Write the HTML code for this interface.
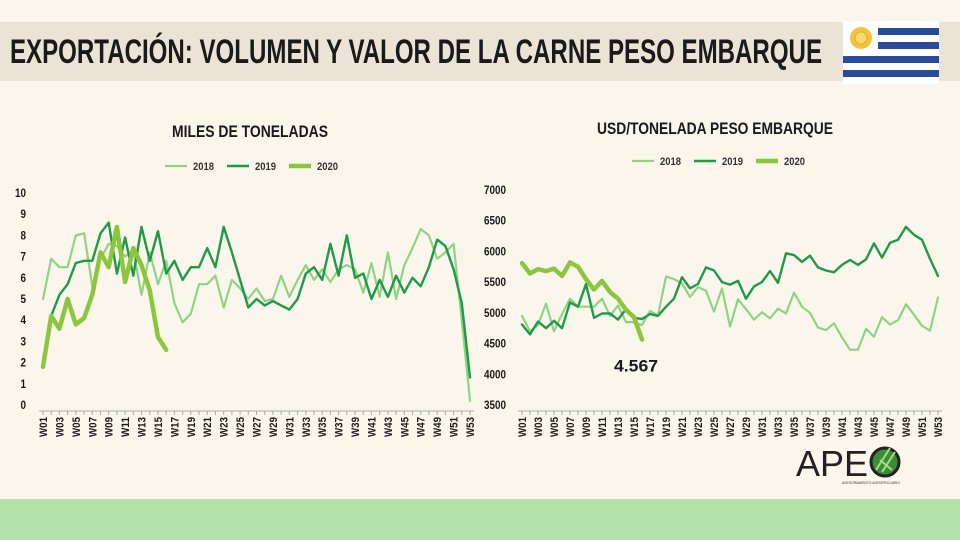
<!DOCTYPE html>
<html><head><meta charset="utf-8">
<style>
html,body{margin:0;padding:0;background:#fbf6ec;}
#root{position:relative;width:960px;height:540px;overflow:hidden;background:#fbf6ec;font-family:"Liberation Sans",sans-serif;}
svg text{font-family:"Liberation Sans",sans-serif;}
</style></head>
<body>
<div id="root">
<svg id="svg" width="960" height="540" viewBox="0 0 960 540">
  <rect x="0" y="22" width="960" height="59" fill="#ebe3d5"/>
  <text x="10" y="63" font-size="34" font-weight="bold" fill="#1a1a1a" textLength="812" lengthAdjust="spacingAndGlyphs">EXPORTACIÓN: VOLUMEN Y VALOR DE LA CARNE PESO EMBARQUE</text>
  <g>
    <rect x="843" y="21" width="96" height="63" fill="#ffffff"/>
    <rect x="878" y="28" width="61" height="7" fill="#2a4b9b"/>
    <rect x="878" y="42" width="61" height="7" fill="#2a4b9b"/>
    <rect x="843" y="56" width="96" height="7" fill="#2a4b9b"/>
    <rect x="843" y="70" width="96" height="7" fill="#2a4b9b"/>
    <circle cx="861" cy="38" r="11" fill="#f3c43a"/>
    <circle cx="861" cy="38" r="6" fill="#f7d873" stroke="#d9a520" stroke-width="0.8"/>
  </g>
  <rect x="0" y="499" width="960" height="41" fill="#b3e3aa"/>
  <g>
    <text x="796" y="476" font-size="36" fill="#222" textLength="72" lengthAdjust="spacingAndGlyphs">APE</text>
    <circle cx="885" cy="462" r="14" fill="#3c8c3a" stroke="#222" stroke-width="3"/>
    <path d="M876 470 L890 448 M882 472 L895 452 M880 460 L892 470" stroke="#a6dd7a" stroke-width="2"/>
    <text x="842" y="484" font-size="4" fill="#333" textLength="58" lengthAdjust="spacingAndGlyphs">ASESORAMIENTO AGROPECUARIO</text>
  </g>
  <text x="172" y="137" font-size="17" font-weight="bold" fill="#1a1a1a" textLength="156" lengthAdjust="spacingAndGlyphs">MILES DE TONELADAS</text>
  <text x="597" y="134" font-size="17" font-weight="bold" fill="#1a1a1a" textLength="236" lengthAdjust="spacingAndGlyphs">USD/TONELADA PESO EMBARQUE</text>
  <g id="left"></g>
  <g id="right"></g>
</svg>
</div>
<script>
const weeks = [];
for (let i = 1; i <= 53; i++) weeks.push('W' + (i < 10 ? '0' + i : i));
const volTicks = [0,1,2,3,4,5,6,7,8,9,10];
const vol2018 = [5.0,6.9,6.5,6.5,8.0,8.1,5.6,6.9,7.6,7.5,7.0,7.3,5.2,7.2,5.7,6.8,4.8,3.9,4.3,5.7,5.7,6.1,4.6,5.9,5.5,5.0,5.5,4.9,5.0,6.1,5.1,5.9,6.6,5.9,6.4,5.8,6.4,6.6,6.4,5.3,6.7,5.1,7.2,5.0,6.6,7.4,8.3,8.0,6.9,7.2,7.6,4.0,0.2];
const vol2019 = [null,4.2,5.2,5.7,6.7,6.8,6.8,8.1,8.6,6.2,7.9,6.1,8.4,6.8,8.2,6.2,6.8,5.9,6.5,6.5,7.4,6.5,8.4,7.2,5.9,4.6,5.0,4.7,4.9,4.7,4.5,5.0,6.2,6.5,5.9,7.6,6.1,8.0,6.0,6.2,5.0,5.9,5.1,6.1,5.3,6.0,5.6,6.5,7.8,7.5,6.4,4.8,1.3];
const vol2020 = [1.8,4.2,3.6,5.0,3.8,4.1,5.2,7.2,6.5,8.4,5.8,7.4,6.6,5.4,3.2,2.6];
const priceTicks = [3500,4000,4500,5000,5500,6000,6500,7000];
const price2018 = [4950,4700,4800,5150,4700,4980,5230,5100,5100,5100,5230,4950,5120,4850,4850,4800,5030,4960,5590,5550,5480,5260,5420,5360,5020,5400,4780,5220,5060,4890,5010,4910,5070,4990,5330,5100,5000,4760,4720,4830,4600,4400,4400,4740,4610,4930,4810,4880,5140,4970,4790,4710,5250];
const price2019 = [4810,4650,4860,4750,4870,4750,5170,5100,5470,4920,4990,4990,4890,5060,4920,4900,4980,4950,5100,5230,5580,5400,5470,5740,5690,5500,5460,5520,5230,5430,5500,5680,5490,5970,5940,5830,5930,5740,5690,5660,5780,5860,5780,5870,6130,5900,6140,6190,6400,6270,6190,5880,5600];
const price2020 = [5810,5640,5710,5680,5720,5600,5820,5750,5550,5380,5520,5340,5230,5050,4930,4567];
const seriesNames = ['2018','2019','2020'];
const lastLabel = '4.567';

const NS = 'http://www.w3.org/2000/svg';
function mk(tag, attrs, parent) {
  const e = document.createElementNS(NS, tag);
  for (const k in attrs) e.setAttribute(k, attrs[k]);
  parent.appendChild(e);
  return e;
}
const colors = ['#8fd483', '#1f9a4a', '#8cc63f'];
const widths = [2.2, 2.4, 4.5];

function drawChart(g, cfg) {
  const xS = i => cfg.x0 + i * (cfg.x1 - cfg.x0) / (weeks.length - 1);
  const yS = v => cfg.yb - (v - cfg.vmin) / (cfg.vmax - cfg.vmin) * (cfg.yb - cfg.yt);
  cfg.ticks.forEach(t => {
    const s = String(t);
    const tx = mk('text', {x: cfg.labelX, y: yS(t) + 4, 'text-anchor': cfg.anchor, 'font-size': 12, 'font-weight': 'bold', fill: '#1a1a1a', textLength: s.length * 5.5, lengthAdjust: 'spacingAndGlyphs'}, g);
    
    
    tx.textContent = s;
  });
  const ax = mk('line', {x1: xS(0) - 4, x2: xS(weeks.length - 1) + 4, y1: cfg.yb + 6, y2: cfg.yb + 6, stroke: '#aaa', 'stroke-width': 1}, g);
  
  
  weeks.forEach((w, i) => {
    const tk = mk('line', {x1: xS(i), x2: xS(i), y1: cfg.yb + 6, y2: cfg.yb + 10, stroke: '#aaa', 'stroke-width': 1}, g);
    
    
    if (i % 2 === 0) {
      const x = xS(i) + 4, y = cfg.yb + 12;
      const tl = mk('text', {x: x, y: y, 'text-anchor': 'end', 'font-size': 11, 'font-weight': 'bold', fill: '#1a1a1a', textLength: 20, lengthAdjust: 'spacingAndGlyphs', transform: 'rotate(-90 ' + x + ' ' + y + ')'}, g);
      
      
      tl.textContent = w;
    }
  });
  cfg.series.forEach((s, k) => {
    let d = '', pen = false;
    s.forEach((v, i) => {
      if (v === null) { pen = false; return; }
      d += (pen ? 'L' : 'M') + xS(i).toFixed(1) + ' ' + yS(v).toFixed(1) + ' ';
      pen = true;
    });
    const p = mk('path', {d: d, fill: 'none', stroke: colors[k], 'stroke-width': widths[k], 'stroke-linejoin': 'round', 'stroke-linecap': 'round'}, g);
    
    
  });
  seriesNames.forEach((n, k) => {
    const lx = cfg.legX + k * 62;
    const ll = mk('line', {x1: lx, x2: lx + 22, y1: cfg.legY, y2: cfg.legY, stroke: colors[k], 'stroke-width': widths[k]}, g);
    
    
    const lt = mk('text', {x: lx + 28, y: cfg.legY + 4, 'font-size': 11, 'font-weight': 'bold', fill: '#333', textLength: 21, lengthAdjust: 'spacingAndGlyphs'}, g);
    
    
    lt.textContent = n;
  });
  return {xS, yS};
}

drawChart(document.getElementById('left'), {
  x0: 43, x1: 470, yt: 193, yb: 405, vmin: 0, vmax: 10, ticks: volTicks,
  labelX: 26, anchor: 'end', series: [vol2018, vol2019, vol2020], legX: 165, legY: 166
});
const r = drawChart(document.getElementById('right'), {
  x0: 522, x1: 938, yt: 190, yb: 405, vmin: 3500, vmax: 7000, ticks: priceTicks,
  labelX: 484, anchor: 'start', series: [price2018, price2019, price2020], legX: 632, legY: 161
});
const li = price2020.length - 1;
const lab = mk('text', {x: r.xS(li) - 6, y: r.yS(price2020[li]) + 32, 'text-anchor': 'middle', 'font-size': 17, 'font-weight': 'bold', fill: '#1a1a1a', textLength: 44, lengthAdjust: 'spacingAndGlyphs'}, document.getElementById('right'));


lab.textContent = lastLabel;
</script>
</body></html>
